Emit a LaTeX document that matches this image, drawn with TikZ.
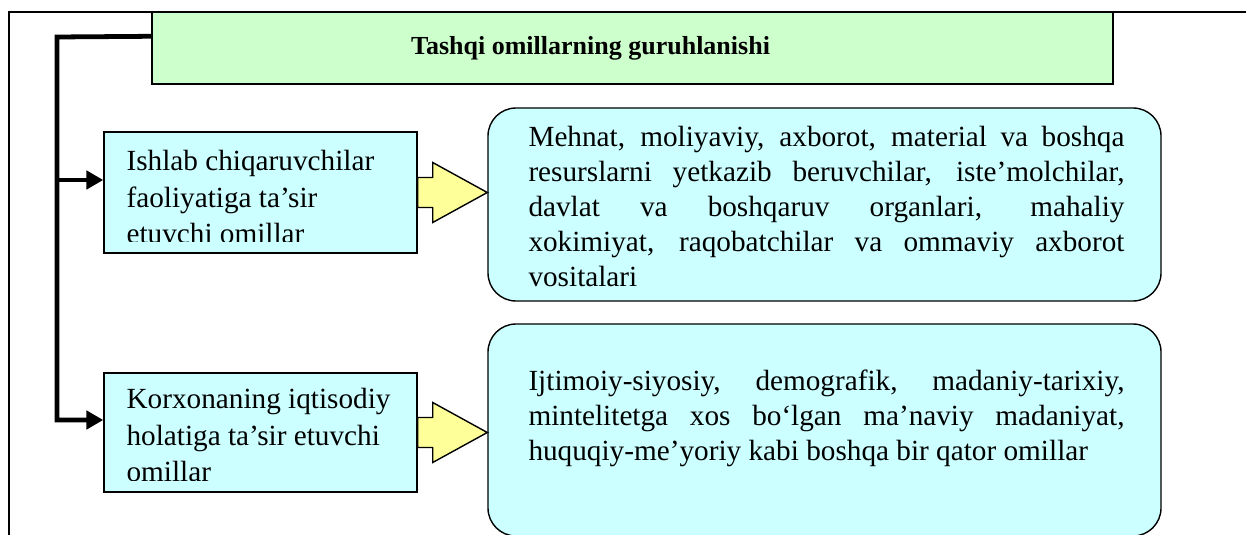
\documentclass[tikz,border=0pt]{standalone}
\usepackage{fontspec}
\setmainfont{Liberation Serif}
\usepackage{tikz}
\usetikzlibrary{calc,positioning,arrows.meta}
\hyphenpenalty=10000
\exhyphenpenalty=10000

\definecolor{titlegreen}{HTML}{CCFFCC}
\definecolor{boxcyan}{HTML}{CCFFFF}
\definecolor{arrowyellow}{HTML}{FFFF99}

\begin{document}
\begin{tikzpicture}[font=\fontsize{20.8}{24.8}\selectfont]
      \tikzset{
	  titlebox/.style={rectangle,draw=black,fill=titlegreen,line width=1pt,minimum width=24.025cm,minimum height=1.8cm,inner sep=0pt,font=\fontsize{18.5}{22}\selectfont\bfseries},
	  factor/.style={rectangle,draw=black,fill=boxcyan,line width=1pt,minimum width=7.825cm,inner sep=0pt},
	  factortext/.style={anchor=north west,inner sep=0pt,align=left,font=\fontsize{20.8}{26}\selectfont},
	  detail/.style={rectangle,rounded corners=0.7cm,draw=black,fill=boxcyan,line width=1pt,minimum width=16.825cm,inner sep=0pt},
	  detailtext/.style={inner sep=0pt,text width=14.9cm,align=justify},
	  bracket/.style={line width=3.4pt,-{Triangle[length=0.42cm,width=0.45cm]}},
	  fatarrow/.style={draw=black,fill=arrowyellow,line width=1pt,line join=miter},
	  frame/.style={draw=black,line width=0.8pt}
      }
      \useasboundingbox (0,0) rectangle (31.15,-13.375);

      \draw[frame] (31.15,-0.3) -- (0.225,-0.3) -- (0.225,-13.375);

      \node at (15.8125,-1.2) [titlebox] (title) {Tashqi omillarning guruhlanishi\hspace*{2.1cm}};

      \node at (6.5125,-4.8125) [factor,minimum height=3.025cm] (b1) {};
      \node at (6.5125,-10.8125) [factor,minimum height=2.975cm] (b2) {};
      \begin{scope}
	\clip (b1.north west) rectangle ($(b1.south east)+(0,0.3)$);
	\node at ($(b1.north west)+(0.575,-0.47)$) [factortext] (b1text)
	  {Ishlab chiqaruvchilar\\ faoliyatiga ta’sir\\ etuvchi omillar};
      \end{scope}
      \begin{scope}
	\clip (b2.north west) rectangle ($(b2.south east)+(0,0.3)$);
	\node at ($(b2.north west)+(0.575,-0.4)$) [factortext] (b2text)
	  {Korxonaning iqtisodiy\\ holatiga ta’sir etuvchi\\ omillar};
      \end{scope}

      \node at (20.6125,-5.1125) [detail,minimum height=4.825cm] (r1) {};
      \node at (20.6125,-10.75) [detail,minimum height=5.3cm] (r2) {};
      \node at ($(r1.center)+(0.05,-0.05)$) [detailtext] (r1text)
	{Mehnat, moliyaviy, axborot, material va boshqa\linebreak
	 resurslarni yetkazib beruvchilar, iste’molchilar,\linebreak
	 davlat va boshqaruv organlari, mahaliy\linebreak
	 xokimiyat, raqobatchilar va ommaviy axborot\linebreak
	 vositalari};
      \node at ($(r2.center)+(0.05,0.3)$) [detailtext] (r2text)
	{Ijtimoiy-siyosiy, demografik, madaniy-tarixiy,\linebreak
	 mintelitetga xos bo‘lgan ma’naviy madaniyat,\linebreak
	 huquqiy-me’yoriy kabi boshqa bir qator omillar};

      % block arrows
      \foreach \src/\dst in {b1/r1,b2/r2}
	\draw[fatarrow] ($(\src.east)+(0,0.375)$) -- ++(0.375,0) -- ++(0,0.375)
	  -- (\dst.west |- \src.east) -- ($(\src.east)+(0.375,-0.75)$)
	  -- ++(0,0.375) -- ++(-0.375,0) -- cycle;

      % bracket
      \coordinate (j0) at ($(title.north west)+(0,-0.625)$);
      \coordinate (corner) at (1.425,-0.925);
      \coordinate (in1) at ($(b1.west)+(0,0.3125)$);
      \coordinate (in2) at ($(b2.west)+(0,0.3125)$);
      \draw[bracket] (j0) -- (corner) |- (in2);
      \draw[bracket] (corner |- in1) -- (in1);
\end{tikzpicture}
\end{document}
